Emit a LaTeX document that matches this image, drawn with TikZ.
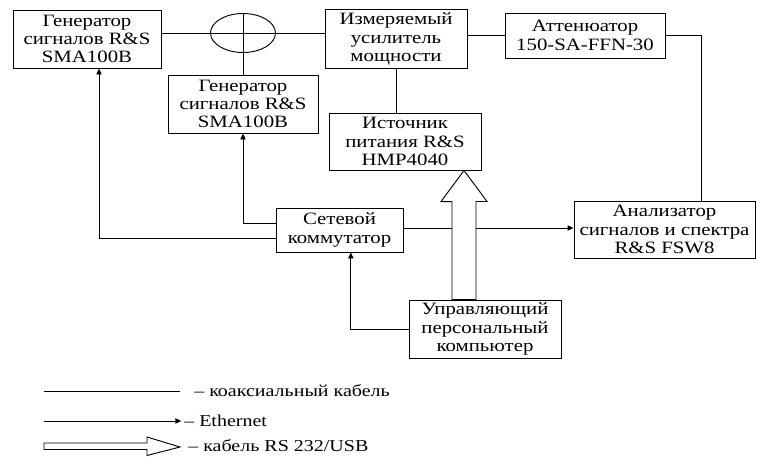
\documentclass[tikz,border=0pt]{standalone}
\usepackage{fontspec}
\setmainfont{Liberation Serif}[FakeStretch=1.2]
\usepackage{tikz}
\usetikzlibrary{arrows.meta,positioning,calc,shapes.geometric}

\tikzset{
  blk/.style={draw, line width=0.7pt, align=center, inner sep=1pt,
    font=\fontsize{13}{13.8}\selectfont},
  lnk/.style={line width=0.7pt},
  eth/.style={line width=0.7pt, -{Triangle[length=4.5pt,width=4pt]}},
  usb/.style={line width=0.7pt, fill=white},
  lgd/.style={anchor=west, inner sep=0pt, font=\fontsize{12.5}{13}\selectfont}
}

\begin{document}
\begin{tikzpicture}[x=0.75pt,y=-0.75pt]
  \useasboundingbox (0,0) rectangle (757,457);
  % blocks
  \node[blk, minimum width=111pt, minimum height=43.5pt] (gen1) at (87,39)
    {Генератор\\сигналов R\&S\\SMA100B};
  \node[blk, minimum width=112.5pt, minimum height=43.5pt] (gen2) at (243,104)
    {Генератор\\сигналов R\&S\\SMA100B};
  \node[draw, ellipse, line width=0.7pt, minimum width=48.75pt,
    minimum height=29.25pt] (mix) at (243,33) {};
  \node[blk, minimum width=106.5pt, minimum height=44.25pt] (amp) at (396,39)
    {Измеряемый\\усилитель\\мощности};
  \node[blk, minimum width=120pt, minimum height=33.75pt] (att) at (585,35.5)
    {Аттенюатор\\150-SA-FFN-30};
  \node[blk, minimum width=114pt, minimum height=42.75pt] (src) at (405,141.5)
    {Источник\\питания R\&S\\HMP4040};
  \node[blk, minimum width=95.25pt, minimum height=33pt] (sw) at (339.5,230)
    {Сетевой\\коммутатор};
  \node[blk, minimum width=135.75pt, minimum height=42.75pt] (an) at (664.5,229.5)
    {Анализатор\\сигналов и спектра\\R\&S FSW8};
  \node[blk, minimum width=114pt, minimum height=43.5pt] (pc) at (485,329)
    {Управляющий\\персональный\\компьютер};

  % coaxial lines
  \draw[lnk] (mix.center -| gen1.east) -- (mix.center -| amp.west);
  \draw[lnk] (mix.north) -- (gen2.north);
  \draw[lnk] (att.west -| amp.east) -- (att.west);
  \draw[lnk] (att.east) -| ([xshift=28pt]an.north);
  \draw[lnk] (amp.south) -- (amp.south |- src.north);

  % ethernet
  \draw[eth] ([yshift=-6pt]sw.west) -| ([xshift=9pt]gen1.south);
  \draw[eth] ([yshift=5.25pt]sw.west) -| (gen2.south);
  \draw[eth] ([yshift=1.5pt]sw.east) -- ([yshift=1.5pt]sw.east -| an.west);
  \draw[eth] (pc.west) -| ([xshift=8.5pt]sw.south);

  % RS 232/USB
  \coordinate (rs) at (pc.north -| 464,0);
  \draw[usb] (rs) ++(-12,0) -- ++(0,-98) -- ++(-11,0) -- (rs |- src.south)
    -- ++(23,31) -- ++(-11,0) -- ++(0,98) -- cycle;

  % legend
  \node[lgd] (lcoax) at (194,391) {– коаксиальный кабель};
  \node[lgd] (leth) at (184,421) {– Ethernet};
  \node[lgd] (lusb) at (188,446) {– кабель RS 232/USB};
  \coordinate (c0) at (44,391);
  \coordinate (c1) at (180,391);
  \coordinate (e0) at (44,421);
  \coordinate (u0) at (44,447);
  \draw[lnk] (c0) -- (c1);
  \draw[eth] (e0) -- ([xshift=-2pt]leth.west);
  \draw[usb] (u0) ++(0,-4) -- ++(103,0) -- ++(0,-6) -- ([xshift=-6pt]lusb.west |- u0)
    -- ++(-33,8.5) -- ++(0,-6) -- ++(-103,0) -- cycle;
\end{tikzpicture}
\end{document}
